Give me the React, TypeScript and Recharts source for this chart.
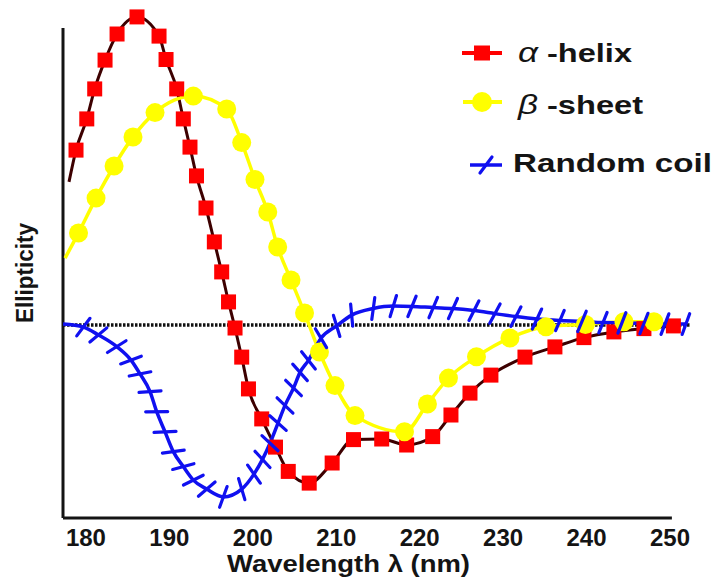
import React from 'react';
import { LineChart, Line, XAxis, YAxis, ReferenceLine } from 'recharts';

// ---- data (wavelength in nm, ellipticity in arbitrary units) ----
const alphaWavelength = [177.97, 178.81, 180.1, 181.05, 182.29, 183.73, 186.12, 188.76, 189.6, 190.88, 191.67, 192.47, 193.25, 194.39, 195.39, 196.27, 197.09, 197.87, 198.67, 199.48, 201.07, 202.72, 204.25, 206.76, 209.51, 212.07, 215.45, 218.44, 221.56, 223.75, 226.03, 228.54, 232.62, 236.21, 239.69, 243.28, 246.88, 250.41];
const alphaEllipticity = [4.77, 5.83, 6.87, 7.87, 8.83, 9.7, 10.27, 9.63, 8.85, 7.87, 6.87, 5.93, 4.97, 3.9, 2.77, 1.77, 0.77, -0.1, -1.07, -2.13, -3.13, -4.07, -4.88, -5.27, -4.6, -3.82, -3.8, -4.0, -3.72, -3.0, -2.27, -1.67, -1.07, -0.73, -0.42, -0.23, -0.12, -0.03];

const betaWavelength = [177.5, 179.11, 181.21, 183.37, 185.64, 188.28, 192.87, 196.87, 198.67, 200.26, 201.79, 202.98, 204.58, 206.2, 207.99, 209.85, 212.25, 218.18, 220.93, 223.45, 226.81, 230.82, 235.14, 239.87, 244.48, 248.08];
const betaEllipticity = [2.23, 3.07, 4.23, 5.3, 6.27, 7.08, 7.63, 7.2, 6.08, 4.85, 3.77, 2.6, 1.5, 0.4, -0.9, -2.02, -3.02, -3.56, -2.63, -1.77, -1.06, -0.43, -0.06, 0.02, 0.11, 0.11];

const coilWavelength = [177.26, 179.69, 181.49, 183.69, 185.4, 186.48, 187.68, 188.48, 189.48, 190.47, 191.67, 192.87, 194.48, 196.47, 198.67, 200.14, 201.16, 202.06, 203.02, 203.86, 204.88, 205.66, 206.67, 208.17, 210.05, 211.85, 214.44, 216.84, 219.08, 221.63, 223.99, 226.51, 229.02, 231.54, 234.06, 236.81, 239.45, 241.97, 244.24, 246.88, 249.4, 251.91];
const coilEllipticity = [0.03, -0.07, -0.33, -0.72, -1.17, -1.63, -2.22, -2.89, -3.56, -4.22, -4.72, -5.17, -5.47, -5.73, -5.47, -4.97, -4.48, -3.94, -3.27, -2.68, -2.1, -1.58, -1.18, -0.44, -0.03, 0.33, 0.55, 0.63, 0.62, 0.58, 0.55, 0.48, 0.38, 0.28, 0.2, 0.15, 0.12, 0.08, 0.07, 0.05, 0.03, 0.03];

const xTicks = [180, 190, 200, 210, 220, 230, 240, 250];
const legendGreek = ['α', 'β', ''];
const legendNames = ['-helix', '-sheet', 'Random coil'];
const xAxisTitle = 'Wavelength λ (nm)';
const yAxisTitle = 'Ellipticity';

// ---- axis ranges ----
const X_MIN = 177.25;
const X_MAX = 253.6;
const Y_MIN = -6.433;
const Y_MAX = 10.567;
const Y_AXIS_TOP = 9.9;
const X_AXIS_END = 250.23;
const ZERO_END = 252.4;

const FONT = '"Liberation Sans", Arial, Helvetica, sans-serif';
const RED = '#ff0000';
const ALPHA_LINE = '#3d0000';
const YELLOW = '#ffff00';
const BLUE = '#1010f0';
const INK = '#141414';

const toRows = (xs: number[], ys: number[]) => xs.map((x, i) => ({ x, y: ys[i] }));
const alphaData = toRows(alphaWavelength, alphaEllipticity);
const betaData = toRows(betaWavelength, betaEllipticity);
const coilData = toRows(coilWavelength, coilEllipticity);

const SquareDot = (p: any) => {
  const { cx, cy, index } = p;
  if (index === 0 || cx == null) return <g key={`a${index}`} />;
  return <rect key={`a${index}`} x={cx - 7.5} y={cy - 7.5} width={15} height={15} fill={RED} />;
};

const CircleDot = (p: any) => {
  const { cx, cy, index } = p;
  if (index === 0 || cx == null) return <g key={`b${index}`} />;
  return <circle key={`b${index}`} cx={cx} cy={cy} r={9.5} fill={YELLOW} />;
};

const CoilDot = (p: any) => {
  const { cx, cy, index, points } = p;
  if (index === 0 || cx == null) return <g key={`c${index}`} />;
  let ang = 0;
  if (points && points.length > 1) {
    const a = points[Math.max(0, index - 1)];
    const b = points[Math.min(points.length - 1, index + 1)];
    ang = Math.atan2(-(b.y - a.y), b.x - a.x);
  }
  const th = ang + (70 * Math.PI) / 180;
  const L = 11;
  const dx = Math.cos(th) * L;
  const dy = -Math.sin(th) * L;
  return (
    <line key={`c${index}`} x1={cx - dx} y1={cy - dy} x2={cx + dx} y2={cy + dy} stroke={BLUE} strokeWidth={3.2} strokeLinecap="round" />
  );
};

const AxisTick = (props: any) => (
  <text x={props.x} y={props.y} dy={19.5} textAnchor="middle" fontFamily={FONT} fontWeight="bold" fontSize={24} fill={INK}>
    {props.payload.value}
  </text>
);

const legendRows = [
  { cy: 53, base: 62, greekW: 20, nameW: 85, nameX: 547 },
  { cy: 102, base: 114, greekW: 20, nameW: 96, nameX: 547 },
  { cy: 165, base: 172, greekW: 0, nameW: 199, nameX: 513 },
];

export default function App() {
  return (
    <div style={{ position: 'absolute', left: 0, top: 0, width: 715, height: 577, background: '#fff' }}>
      <LineChart width={715} height={577} margin={{ top: 8, right: 15, bottom: 0, left: 63 }}>
        <XAxis
          type="number"
          dataKey="x"
          domain={[X_MIN, X_MAX]}
          ticks={xTicks}
          interval={0}
          allowDataOverflow
          axisLine={false}
          tickLine={false}
          height={59}
          tick={<AxisTick />}
        />
        <YAxis type="number" dataKey="y" domain={[Y_MIN, Y_MAX]} allowDataOverflow hide />
        <ReferenceLine
          segment={[{ x: X_MIN, y: 0 }, { x: ZERO_END, y: 0 }]}
          stroke="#111"
          strokeWidth={3.5}
          strokeDasharray="2.5 1.5"
          ifOverflow="visible"
        />
        <ReferenceLine
          segment={[{ x: X_MIN, y: Y_MIN }, { x: X_MIN, y: Y_AXIS_TOP }]}
          stroke={INK}
          strokeWidth={3}
          ifOverflow="visible"
        />
        <ReferenceLine
          segment={[{ x: X_MIN, y: Y_MIN }, { x: X_AXIS_END, y: Y_MIN }]}
          stroke={INK}
          strokeWidth={3}
          ifOverflow="visible"
        />
        <Line data={alphaData} dataKey="y" type="monotone" stroke={ALPHA_LINE} strokeWidth={3} dot={SquareDot} activeDot={false} isAnimationActive={false} />
        <Line data={betaData} dataKey="y" type="monotone" stroke={YELLOW} strokeWidth={3.5} dot={CircleDot} activeDot={false} isAnimationActive={false} />
        <Line data={coilData} dataKey="y" type="monotone" stroke={BLUE} strokeWidth={3.5} dot={CoilDot} activeDot={false} isAnimationActive={false} />
      </LineChart>
      <svg width={715} height={577} style={{ position: 'absolute', left: 0, top: 0, pointerEvents: 'none' }}>
        {legendRows.map((r, i) => (
          <g key={i}>
            {i === 0 && (
              <g>
                <line x1={462} y1={r.cy} x2={502} y2={r.cy} stroke={RED} strokeWidth={4} />
                <rect x={474} y={r.cy - 7.5} width={16} height={15} fill={RED} />
              </g>
            )}
            {i === 1 && (
              <g>
                <line x1={463} y1={r.cy} x2={502} y2={r.cy} stroke={YELLOW} strokeWidth={4} />
                <circle cx={482} cy={r.cy} r={10} fill={YELLOW} />
              </g>
            )}
            {i === 2 && (
              <g>
                <line x1={470} y1={r.cy} x2={502} y2={r.cy} stroke={BLUE} strokeWidth={3.5} />
                <line x1={480} y1={r.cy + 8} x2={492} y2={r.cy - 8} stroke={BLUE} strokeWidth={3.2} strokeLinecap="round" />
              </g>
            )}
            {legendGreek[i] && (
              <text x={518} y={r.base} fontFamily={FONT} fontStyle="italic" fontSize={28} fill={INK} textLength={r.greekW} lengthAdjust="spacingAndGlyphs">
                {legendGreek[i]}
              </text>
            )}
            <text x={r.nameX} y={r.base} fontFamily={FONT} fontWeight="bold" fontSize={25} fill={INK} textLength={r.nameW} lengthAdjust="spacingAndGlyphs">
              {legendNames[i]}
            </text>
          </g>
        ))}
        <text x={348.5} y={572} textAnchor="middle" fontFamily={FONT} fontWeight="bold" fontSize={23} fill={INK} textLength={243} lengthAdjust="spacingAndGlyphs">
          {xAxisTitle}
        </text>
        <text x={33} y={273} transform="rotate(-90 33 273)" textAnchor="middle" fontFamily={FONT} fontWeight="bold" fontSize={23} fill={INK} textLength={100} lengthAdjust="spacingAndGlyphs">
          {yAxisTitle}
        </text>
      </svg>
    </div>
  );
}
